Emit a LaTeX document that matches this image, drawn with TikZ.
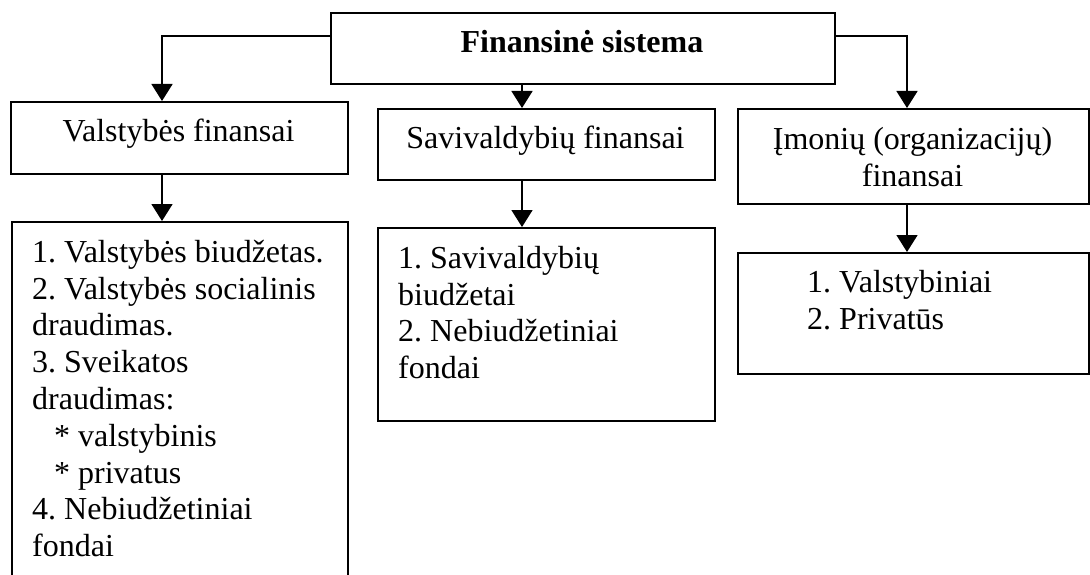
\documentclass[tikz,border=0pt]{standalone}
\usepackage{fontspec}
\setmainfont{Liberation Serif}
\usetikzlibrary{arrows.meta,calc}
\frenchspacing

\begin{document}
\begin{tikzpicture}[
  x=1pt, y=-1pt,
  box/.style={draw, line width=1.6pt, inner sep=0pt, anchor=north west},
  label text/.style={inner sep=0pt, font=\fontsize{32}{36.8}\selectfont},
  list text/.style={label text, anchor=north west, align=left},
  arr/.style={line width=1.6pt, -{Triangle[width=21pt,length=17pt]}},
]
\useasboundingbox (0,0) rectangle (1090,575);
\fill[white] (0,0) rectangle (1090,575);
\clip (0,0) rectangle (1090,575);

% columns of the vertical connectors
\coordinate (vx) at (162,0);
\coordinate (sx) at (522,0);
\coordinate (ix) at (907,0);

% top level
\node[box, minimum width=504pt, minimum height=71pt] (top) at (330,12) {};
\node[label text, anchor=base] (toptext) at (582,53) {\textbf{Finansinė sistema}};

% second level
\node[box, minimum width=337pt, minimum height=72pt] (vf) at (10,101) {};
\node[label text, anchor=base] (vftext) at (178.5,142) {Valstybės finansai};

\node[box, minimum width=337pt, minimum height=71pt] (sf) at (377,108) {};
\node[label text, anchor=base] (sftext) at (545.5,149) {Savivaldybių finansai};

\node[box, minimum width=351pt, minimum height=95pt] (im) at (737,108) {};
\node[label text, anchor=north, align=center] (imtext) at (912.5,119)
  {\rule{0pt}{30pt}Įmonių (organizacijų)\\finansai};

% third level
\node[box, minimum width=336pt, minimum height=400pt] (vlist) at (11,221) {};
\node[list text] (vlisttext) at (32,232)
  {\rule{0pt}{30pt}1. Valstybės biudžetas.\\
   2. Valstybės socialinis\\
   draudimas.\\
   3. Sveikatos\\
   draudimas:\\
   \hspace*{22pt}* valstybinis\\
   \hspace*{22pt}* privatus\\
   4. Nebiudžetiniai\\
   fondai};

\node[box, minimum width=337pt, minimum height=193pt] (slist) at (377,227) {};
\node[list text] (slisttext) at (398,238)
  {\rule{0pt}{30pt}1. Savivaldybių\\
   biudžetai\\
   2. Nebiudžetiniai\\
   fondai};

\node[box, minimum width=351pt, minimum height=121pt] (ilist) at (737,252) {};
\node[list text] (ilisttext) at (807,262)
  {\rule{0pt}{30pt}1. Valstybiniai\\
   2. Privatūs};

% connectors
\draw[arr] ($(top.north west)+(0,24)$) -| (vx |- vf.north);
\draw[arr] (sx |- top.south) -- (sx |- sf.north);
\draw[arr] ($(top.north east)+(0,24)$) -| (ix |- im.north);

\draw[arr] (vx |- vf.south) -- (vx |- vlist.north);
\draw[arr] (sx |- sf.south) -- (sx |- slist.north);
\draw[arr] (ix |- im.south) -- (ix |- ilist.north);
\end{tikzpicture}
\end{document}
